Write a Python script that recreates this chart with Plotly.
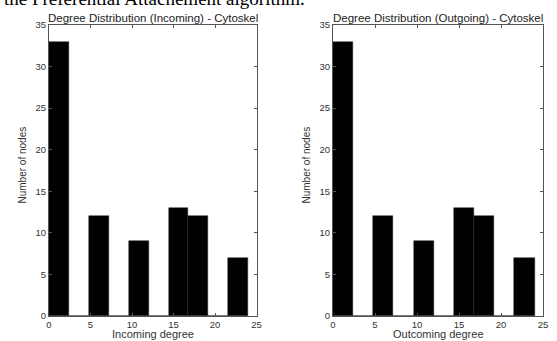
import plotly.graph_objects as go

bin_centers = [1.2, 3.6, 6.0, 8.4, 10.8, 13.2, 15.6, 18.0, 20.4, 22.8]
incoming_counts = [33, 0, 12, 0, 9, 0, 13, 12, 0, 7]
outgoing_counts = [33, 0, 12, 0, 9, 0, 13, 12, 0, 7]
bin_width = 2.4
x_ticks = [0, 5, 10, 15, 20, 25]
y_ticks = [0, 5, 10, 15, 20, 25, 30, 35]
titles = ["Degree Distribution (Incoming) - Cytoskel", "Degree Distribution (Outgoing) - Cytoskel"]
x_labels = ["Incoming degree", "Outcoming degree"]
y_label = "Number of nodes"
caption = "the Preferential Attachement algorithm."

W, H = 557, 341
ml, mr, mt, mb = 0, 0, 25, 25
PH = H - mt - mb
fig = go.Figure()

sans = "Liberation Sans, Arial, sans-serif"
tick_font = dict(family=sans, size=9.5, color="#333")
domains = [(49 / W, 256.5 / W), (333 / W, 543 / W)]
counts = [incoming_counts, outgoing_counts]

for i in range(2):
    xa = "x" if i == 0 else "x2"
    ya = "y" if i == 0 else "y2"
    fig.add_trace(go.Bar(x=bin_centers, y=counts[i], width=bin_width,
                         marker=dict(color="black", line=dict(color="#222", width=0.5)),
                         xaxis=xa, yaxis=ya, showlegend=False))
    axis_common = dict(showgrid=False, zeroline=False, showline=True, linecolor="#555",
                       linewidth=1, mirror="ticks", ticks="inside", ticklen=3,
                       tickcolor="#555", tickfont=tick_font, automargin=False)
    fig.layout["xaxis" if i == 0 else "xaxis2"] = dict(
        domain=list(domains[i]), range=[0, 25], tickvals=x_ticks, anchor=ya, **axis_common)
    fig.layout["yaxis" if i == 0 else "yaxis2"] = dict(
        domain=[0, 1], range=[0, 35], tickvals=y_ticks, anchor=xa, **axis_common)
    cx = (domains[i][0] + domains[i][1]) / 2
    fig.add_annotation(text=titles[i], x=cx, y=1, xref="paper", yref="paper",
                       xanchor="center", yanchor="bottom", yshift=-1, showarrow=False,
                       font=dict(family=sans, size=11.5, color="#222"))
    fig.add_annotation(text=x_labels[i], x=cx, y=-(334 - (H - mb)) / PH, xref="paper", yref="paper",
                       xanchor="center", yanchor="middle", showarrow=False,
                       font=dict(family=sans, size=11, color="#333"))
    fig.add_annotation(text=y_label, x=domains[i][0] - 27 / W, y=(H - mb - 165.5) / PH,
                       xref="paper", yref="paper", xanchor="center", yanchor="middle",
                       textangle=-90, showarrow=False,
                       font=dict(family="Liberation Sans Narrow, Arial Narrow, sans-serif", size=10, color="#333"))

fig.add_annotation(text=caption, x=2 / W, y=(H - mb - 11) / PH, xref="paper", yref="paper",
                   xanchor="left", yanchor="bottom", showarrow=False,
                   font=dict(family="Liberation Serif, Times New Roman, serif", size=19, color="black"))

fig.update_layout(width=W, height=H, margin=dict(l=ml, r=mr, t=mt, b=mb),
                  plot_bgcolor="white", paper_bgcolor="white", bargap=0)

fig.write_html("out.html", config={"displayModeBar": False},
               post_script="document.body.style.margin='0';document.body.style.overflow='hidden';")
